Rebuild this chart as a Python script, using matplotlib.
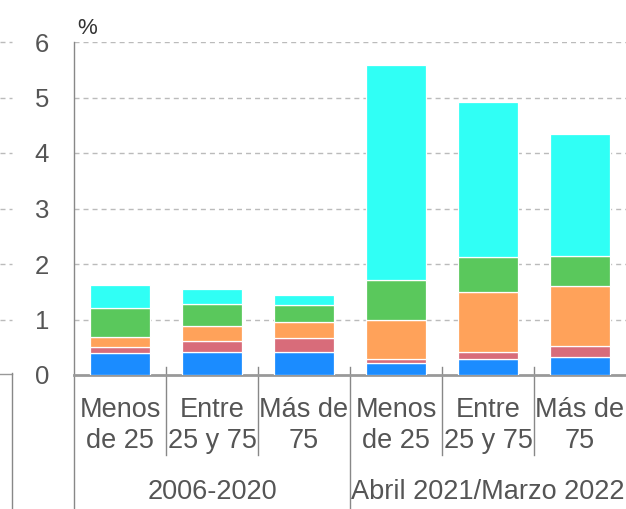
import matplotlib
matplotlib.use("Agg")
import matplotlib.pyplot as plt
import matplotlib.transforms as mtransforms
from matplotlib.lines import Line2D
import numpy as np

plt.rcParams['font.family'] = ['Liberation Sans', 'DejaVu Sans']

cat_line1 = ["Menos", "Entre", "Más de", "Menos", "Entre", "Más de"]
cat_line2 = ["de 25", "25 y 75", "75", "de 25", "25 y 75", "75"]
groups = ["2006-2020", "Abril 2021/Marzo 2022"]

blue = [0.39, 0.41, 0.41, 0.21, 0.28, 0.32]
red = [0.11, 0.21, 0.26, 0.07, 0.13, 0.21]
orange = [0.18, 0.27, 0.28, 0.71, 1.08, 1.07]
green = [0.53, 0.39, 0.31, 0.72, 0.63, 0.54]
cyan = [0.41, 0.27, 0.19, 3.88, 2.80, 2.20]

series = [blue, red, orange, green, cyan]
colors = ["#1b8cff", "#d86c7a", "#ffa25a", "#5ac85c", "#30fff5"]

W, H = 626, 509
fig = plt.figure(figsize=(W / 100, H / 100), dpi=100)
ax = fig.add_axes([74 / W, (H - 375) / H, (W - 74) / W, 333 / H])

x = np.arange(len(cat_line1))
bottom = np.zeros(len(x))
for vals, c in zip(series, colors):
    v = np.array(vals)
    ax.bar(x, v, width=0.66, bottom=bottom, color=c, edgecolor="white", linewidth=0.9, zorder=3)
    bottom += v

ax.set_xlim(-0.5, 5.5)
ax.set_ylim(0, 6)
ax.set_yticks(range(0, 7))
ax.set_xticks([])
ax.tick_params(axis='y', length=0, pad=18, labelsize=18.5, labelcolor="#555555")
for s in ["top", "right"]:
    ax.spines[s].set_visible(False)
ax.spines["left"].set_color("#888888")
ax.spines["left"].set_linewidth(1.0)
ax.spines["bottom"].set_color("#999999")
ax.spines["bottom"].set_linewidth(2.0)
for yv in range(1, 7):
    ax.axhline(yv, color="#bbbbbb", lw=1.0, dashes=(3.6, 2.9), zorder=1)

trans = mtransforms.blended_transform_factory(ax.transData, ax.transAxes)
# separators
for xs in [0.5, 1.5, 3.5, 4.5]:
    ax.add_line(Line2D([xs, xs], [0.024, -0.24], transform=trans, color="#888888", lw=1.0, clip_on=False))
ax.add_line(Line2D([2.5, 2.5], [0.024, -0.41], transform=trans, color="#888888", lw=1.0, clip_on=False))
ax.add_line(Line2D([-0.5, -0.5], [0, -0.41], transform=trans, color="#888888", lw=1.0, clip_on=False))

fs = 19.5
for xi, l1, l2 in zip(x, cat_line1, cat_line2):
    ax.text(xi, -0.105, l1, transform=trans, ha="center", va="center", fontsize=fs, color="#555555")
    ax.text(xi, -0.197, l2, transform=trans, ha="center", va="center", fontsize=fs, color="#555555")
ax.text(1, -0.35, groups[0], transform=trans, ha="center", va="center", fontsize=fs, color="#555555")
ax.text(4, -0.35, groups[1], transform=trans, ha="center", va="center", fontsize=fs, color="#555555")

ax.text(0.006, 1.01, "%", transform=ax.transAxes, ha="left", va="bottom", fontsize=16, color="#333333")

# cropped neighbouring panel at far left
for yv in range(1, 7):
    yp = 375 - yv * 55.5
    fig.add_artist(Line2D([0, 12 / W], [(H - yp) / H] * 2, color="#bbbbbb", lw=1.0, dashes=(3.6, 2.9)))
fig.add_artist(Line2D([0, 12 / W], [(H - 374) / H] * 2, color="#999999", lw=1.0))
fig.add_artist(Line2D([12.3 / W, 12.3 / W], [(H - 373) / H, 0], color="#888888", lw=1.0))

fig.savefig("out.png", dpi=100)
